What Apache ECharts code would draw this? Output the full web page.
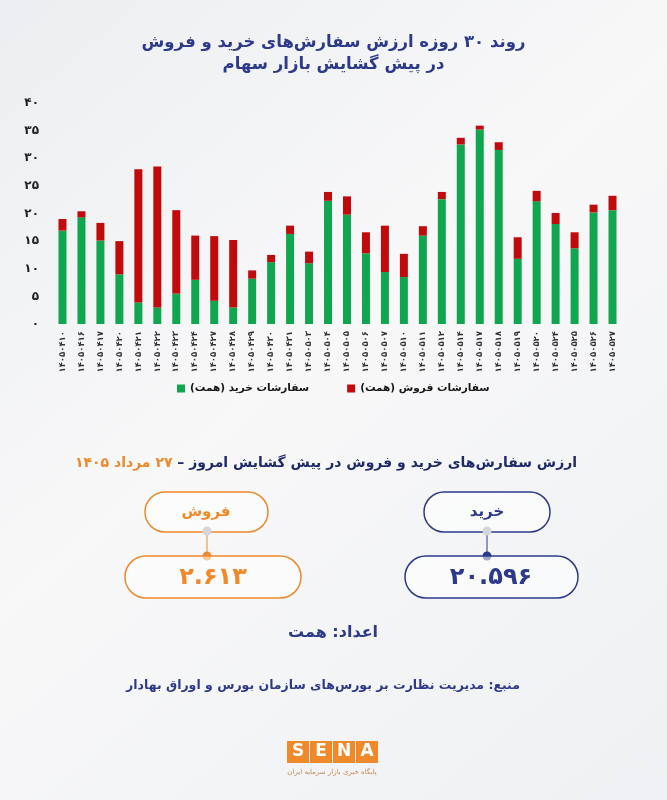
<!DOCTYPE html>
<html dir="rtl">
<head>
<meta charset="utf-8">
<script src="https://cdn.jsdelivr.net/npm/echarts@6/dist/echarts.min.js"></script>
<style>
html,body{margin:0;padding:0;background:#f3f4f6;}
#c{width:667px;height:800px;}
</style>
</head>
<body>
<div id="c"></div>
<script>
// ---- data ----
const categories = ['۱۴۰۵۰۴۱۰','۱۴۰۵۰۴۱۶','۱۴۰۵۰۴۱۷','۱۴۰۵۰۴۲۰','۱۴۰۵۰۴۲۱','۱۴۰۵۰۴۲۲','۱۴۰۵۰۴۲۳','۱۴۰۵۰۴۲۴','۱۴۰۵۰۴۲۷','۱۴۰۵۰۴۲۸','۱۴۰۵۰۴۲۹','۱۴۰۵۰۴۳۰','۱۴۰۵۰۴۳۱','۱۴۰۵۰۵۰۳','۱۴۰۵۰۵۰۴','۱۴۰۵۰۵۰۵','۱۴۰۵۰۵۰۶','۱۴۰۵۰۵۰۷','۱۴۰۵۰۵۱۰','۱۴۰۵۰۵۱۱','۱۴۰۵۰۵۱۲','۱۴۰۵۰۵۱۴','۱۴۰۵۰۵۱۷','۱۴۰۵۰۵۱۸','۱۴۰۵۰۵۱۹','۱۴۰۵۰۵۲۰','۱۴۰۵۰۵۲۴','۱۴۰۵۰۵۲۵','۱۴۰۵۰۵۲۶','۱۴۰۵۰۵۲۷'];
const buyValues  = [16.9,19.3,15.1,9.0,3.9,3.0,5.5,8.0,4.2,3.0,8.2,11.2,16.3,11.0,22.3,19.8,12.8,9.4,8.5,16.0,22.6,32.5,35.2,31.5,11.8,22.2,18.1,13.7,20.2,20.596];
const sellValues = [2.1,1.1,3.2,6.0,24.1,25.5,15.1,8.0,11.7,12.2,1.5,1.3,1.5,2.1,1.6,3.3,3.8,8.4,4.2,1.7,1.3,1.2,0.7,1.4,3.9,1.9,2.0,2.9,1.4,2.613];
const yTicks = [0,5,10,15,20,25,30,35,40];
const buyName = 'سفارشات خرید (همت)';
const sellName = 'سفارشات فروش (همت)';
const todayBuy = '۲۰.۵۹۶';
const todaySell = '۲.۶۱۳';

const fa = s => String(s).replace(/\d/g, d => '۰۱۲۳۴۵۶۷۸۹'[d]);
const FONT = 'DejaVu Sans';
const NAVY = '#2d3a8c';
const ORANGE = '#f0892a';

const chart = echarts.init(document.getElementById('c'), null, {renderer:'canvas'});

function pill(x, y, w, h, color) {
  return {type:'rect', shape:{x:x, y:y, width:w, height:h, r:h/2},
    style:{fill:'rgba(255,255,255,0.55)', stroke:color, lineWidth:1.5}};
}
function txt(x, y, text, size, color, extra) {
  return Object.assign({type:'text', x:x, y:y,
    style:{text:text, fill:color, font:'bold '+size+'px "'+FONT+'"', align:'center', verticalAlign:'middle'}}, extra||{});
}

const graphics = [
  {type:'text', x:326, y:463, style:{
    text:'{o|۲۷ مرداد ۱۴۰۵}{n| }{n|ارزش سفارش‌های خرید و فروش در پیش گشایش امروز –}',
    align:'center', verticalAlign:'middle',
    rich:{
      o:{fill:ORANGE, font:'bold 14px "'+FONT+'"'},
      n:{fill:'#1f2a6b', font:'bold 14px "'+FONT+'"'}
    }}},
  pill(424, 492, 126, 40, NAVY),
  txt(487, 512, 'خرید', 15, NAVY),
  {type:'line', shape:{x1:487, y1:532, x2:487, y2:556}, style:{stroke:NAVY, lineWidth:1}},
  {type:'circle', shape:{cx:487, cy:531, r:4.5}, style:{fill:'#d4d6da'}},
  {type:'circle', shape:{cx:487, cy:556, r:4.5}, style:{fill:NAVY}},
  pill(405, 556, 173, 42, NAVY),
  txt(491, 578, todayBuy, 24, NAVY),
  pill(145, 492, 123, 40, ORANGE),
  txt(206, 512, 'فروش', 15, ORANGE),
  {type:'line', shape:{x1:207, y1:532, x2:207, y2:556}, style:{stroke:ORANGE, lineWidth:1}},
  {type:'circle', shape:{cx:207, cy:531, r:4.5}, style:{fill:'#d4d6da'}},
  {type:'circle', shape:{cx:207, cy:556, r:4.5}, style:{fill:ORANGE}},
  pill(125, 556, 176, 42, ORANGE),
  txt(213, 578, todaySell, 24, ORANGE),
  txt(333, 633, 'اعداد: همت', 16, NAVY),
  txt(323, 686, 'منبع: مدیریت نظارت بر بورس‌های سازمان بورس و اوراق بهادار', 12.5, NAVY),
  {type:'rect', shape:{x:287, y:741, width:22, height:22}, style:{fill:ORANGE}},
  {type:'rect', shape:{x:310, y:741, width:22, height:22}, style:{fill:ORANGE}},
  {type:'rect', shape:{x:333, y:741, width:22, height:22}, style:{fill:ORANGE}},
  {type:'rect', shape:{x:356, y:741, width:22, height:22}, style:{fill:ORANGE}},
  txt(298, 752, 'S', 17, '#ffffff'),
  txt(321, 752, 'E', 17, '#ffffff'),
  txt(344, 752, 'N', 17, '#ffffff'),
  txt(367, 752, 'A', 17, '#ffffff'),
  {type:'text', x:332, y:772, style:{text:'پایگاه خبری بازار سرمایه ایران', fill:'#c08a55',
    font:'7px "'+FONT+'"', align:'center', verticalAlign:'middle'}}
];

chart.setOption({
  backgroundColor: {type:'linear', x:0, y:0, x2:1, y2:1, colorStops:[
    {offset:0, color:'#eceef1'}, {offset:0.45, color:'#f8f8f9'}, {offset:1, color:'#eef0f3'}]},
  textStyle:{fontFamily:FONT},
  title:{
    text:'روند ۳۰ روزه ارزش سفارش‌های خرید و فروش\nدر پیش گشایش بازار سهام',
    left:'center', top:27,
    textStyle:{fontFamily:FONT, fontWeight:'bold', fontSize:16.5, color:NAVY, lineHeight:22}
  },
  legend:{
    data:[buyName, sellName],
    left:172, top:378, itemWidth:8, itemHeight:8, itemGap:38, itemStyle:{borderWidth:0}, icon:'rect',
    textStyle:{fontFamily:FONT, fontWeight:'bold', fontSize:10.5, color:'#151515'}
  },
  grid:{left:53, right:45, top:103, bottom:476, containLabel:false},
  xAxis:{
    type:'category', data:categories,
    axisLine:{show:false}, axisTick:{show:false},
    axisLabel:{rotate:90, interval:0, fontSize:8.5, fontWeight:'bold', color:'#333', margin:7, fontFamily:FONT}
  },
  yAxis:{
    type:'value', min:0, max:40, interval:5,
    splitLine:{show:false}, axisLine:{show:false}, axisTick:{show:false},
    axisLabel:{formatter: v => fa(v), fontSize:12, fontWeight:'bold', color:'#222', margin:14, fontFamily:FONT}
  },
  series:[
    {name:buyName, type:'bar', stack:'t', data:buyValues, barWidth:8, itemStyle:{color:'#10a64f'}},
    {name:sellName, type:'bar', stack:'t', data:sellValues, barWidth:8, itemStyle:{color:'#c10a0c'}}
  ],
  graphic:graphics
});
</script>
</body>
</html>
